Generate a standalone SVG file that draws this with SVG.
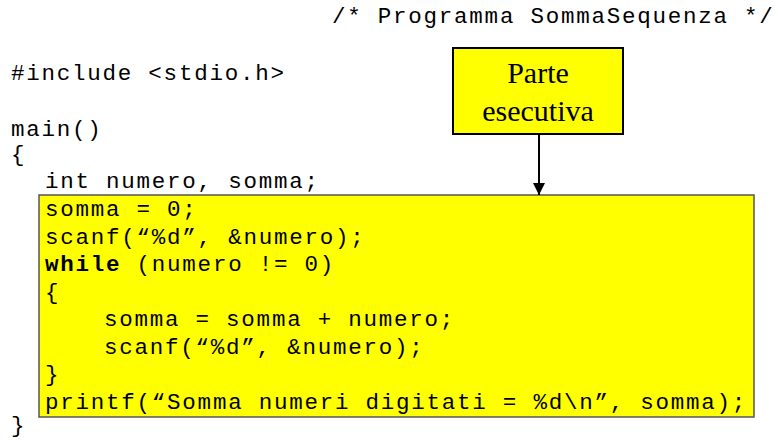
<svg xmlns="http://www.w3.org/2000/svg" width="775" height="440" viewBox="0 0 775 440">
<style>
.code{font-family:"Liberation Mono","Courier New",monospace;font-size:22.5px;letter-spacing:1.76px;fill:#000;white-space:pre}
.b{font-weight:bold}
.lbl{font-family:"Liberation Serif","Times New Roman",serif;font-size:30px;fill:#000;text-anchor:middle}
</style>
<defs>
<marker id="ah" viewBox="0 0 12 12" refX="12" refY="6" markerWidth="12" markerHeight="12" markerUnits="userSpaceOnUse" orient="auto">
<path d="M0,0 L12,6 L0,12 Z" fill="#000"/>
</marker>
</defs>
<rect width="775" height="440" fill="#fff"/>
<g id="header">
<text class="code" x="332" y="23">/* Programma SommaSequenza */</text>
<text class="code" x="11" y="80">#include &lt;stdio.h&gt;</text>
<text class="code" x="11" y="136">main()</text>
<text class="code" x="11" y="161">{</text>
<text class="code" x="45" y="188">int numero, somma;</text>
<text class="code" x="11" y="432">}</text>
</g>
<g id="exec-block">
<rect x="39" y="195" width="715" height="222" fill="#ffff00" stroke="#555" stroke-width="1.5"/>
<text class="code" x="45" y="216">somma = 0;</text>
<text class="code" x="45" y="243.5">scanf(“%d”, &amp;numero);</text>
<text class="code" x="45" y="271"><tspan class="b">while</tspan> (numero != 0)</text>
<text class="code" x="45" y="298.5">{</text>
<text class="code" x="104" y="326">somma = somma + numero;</text>
<text class="code" x="104" y="353.5">scanf(“%d”, &amp;numero);</text>
<text class="code" x="45" y="381">}</text>
<text class="code" x="45" y="408.5">printf(“Somma numeri digitati = %d\n”, somma);</text>
</g>
<g id="callout">
<rect x="453" y="48" width="170" height="86" fill="#ffff00" stroke="#000" stroke-width="2"/>
<text class="lbl" x="538" y="83">Parte</text>
<text class="lbl" x="538" y="121">esecutiva</text>
</g>
<g id="connectors">
<line x1="539" y1="134" x2="539" y2="195" stroke="#000" stroke-width="2" marker-end="url(#ah)"/>
</g>
</svg>
